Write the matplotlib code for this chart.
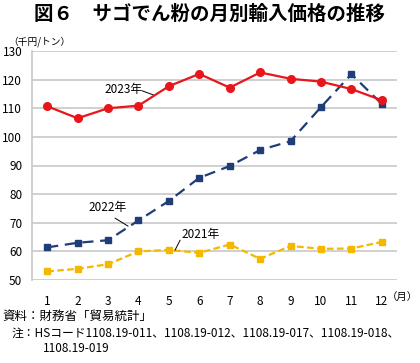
import numpy as np
import matplotlib
matplotlib.use('Agg')
import matplotlib.pyplot as plt

plt.rcParams['font.family'] = ['Noto Sans CJK JP', 'DejaVu Sans']

months = [1, 2, 3, 4, 5, 6, 7, 8, 9, 10, 11, 12]
y2023 = [110.7, 106.5, 110.0, 110.9, 117.7, 122.0, 117.2, 122.5, 120.3, 119.3, 116.7, 112.8]
y2022 = [61.4, 63.0, 63.9, 70.8, 77.6, 85.7, 89.8, 95.4, 98.5, 110.4, 121.9, 111.5]
y2021 = [53.0, 53.9, 55.5, 60.0, 60.5, 59.5, 62.4, 57.4, 61.9, 60.9, 61.0, 63.3]
yticks = [50, 60, 70, 80, 90, 100, 110, 120, 130]

fig = plt.figure(figsize=(4.2, 3.63), dpi=100)
ax = fig.add_axes([32/420, 1 - 280/363, 365/420, 229/363])

ax.plot(months, y2021, color='#F5B800', lw=1.6, ls=(0, (3, 1.5)),
        marker='s', ms=4.2, zorder=3)
ax.plot(months, y2022, color='#1F3D78', lw=1.6, ls=(0, (5, 3)),
        marker='s', ms=4.2, zorder=4)
ax.plot(months, y2023, color='#E8161B', lw=1.6,
        marker='o', ms=5.5, zorder=5)

ax.set_xlim(0.5, 12.5)
ax.set_ylim(50, 130)
ax.set_yticks(yticks)
ax.set_xticks(months)
ax.grid(axis='y', color='#C8C8C8', lw=1.2)
ax.set_axisbelow(True)
for s in ['top', 'right', 'bottom']:
    ax.spines[s].set_visible(False)
ax.spines['left'].set_color('#C8C8C8')
ax.spines['left'].set_linewidth(1.2)
ax.tick_params(length=0, labelsize=8.5, colors='black')
ax.tick_params(axis='x', pad=11)
ax.tick_params(axis='y', pad=7)

# series labels with leader lines
labels = [
    ('2023年', (2.87, 116.4), (4.12, 116.1), (4.5, 114.6)),
    ('2022年', (2.35, 75.5), (3.23, 71.6), (3.66, 68.8)),
    ('2021年', (5.43, 66.0), (5.37, 63.9), (5.2, 60.4)),
]
for txt, tpos, lstart, lend in labels:
    ax.text(tpos[0], tpos[1], txt, fontsize=8.5, ha='left', va='center')
    ax.annotate('', xy=lend, xytext=lstart,
                arrowprops=dict(arrowstyle='-', color='black', lw=0.7,
                                shrinkA=0, shrinkB=0))

fig.text(0.5, 1 - 14/363, '図６　サゴでん粉の月別輸入価格の推移', ha='center',
         va='center', fontsize=14, fontweight='bold')
fig.text(8/420, 1 - 42/363, '（千円/トン）', ha='left', va='center', fontsize=7)
fig.text(402/420, 1 - 297/363, '（月）', ha='center', va='center', fontsize=7.5)
fig.text(2/420, 1 - 316/363, '資料：財務省「貿易統計」', ha='left', va='center',
         fontsize=9)
fig.text(12/420, 1 - 333/363,
         '注：HSコード1108.19-011、1108.19-012、1108.19-017、1108.19-018、',
         ha='left', va='center', fontsize=8.5)
fig.text(43/420, 1 - 349/363, '1108.19-019', ha='left', va='center', fontsize=8.5)

fig.savefig('out.png', dpi=100)
